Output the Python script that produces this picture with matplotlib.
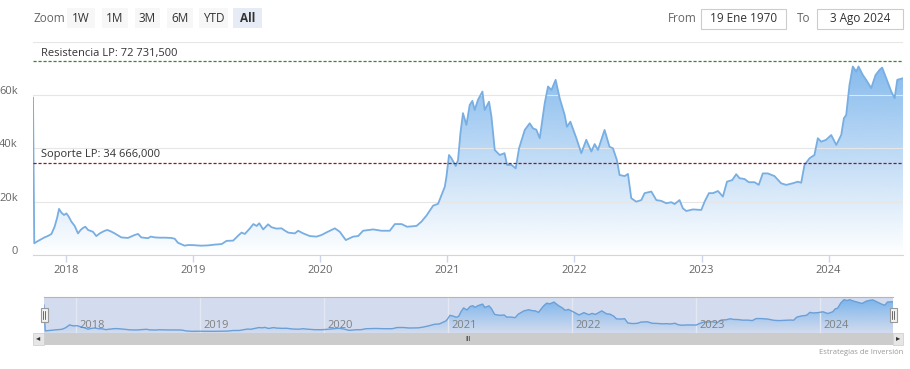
import matplotlib.pyplot as plt
import matplotlib.patches as mpatches
import matplotlib.transforms as mtransforms
from matplotlib.colors import to_rgb
import numpy as np

plt.rcParams['font.family'] = ['Open Sans', 'DejaVu Sans']

# fecha en años decimales, precio en miles de USD (lectura aproximada del gráfico)
fecha = np.array([
    2017.740, 2017.750, 2017.770, 2017.800, 2017.830, 2017.860, 2017.885, 2017.910, 2017.930, 2017.945,
    2017.963, 2017.984, 2018.003, 2018.021, 2018.042, 2018.068, 2018.094, 2018.115, 2018.135, 2018.152,
    2018.173, 2018.212, 2018.238, 2018.265, 2018.300, 2018.325, 2018.355, 2018.383, 2018.435, 2018.487,
    2018.540, 2018.566, 2018.592, 2018.645, 2018.666, 2018.700, 2018.737, 2018.780, 2018.828, 2018.855,
    2018.880, 2018.910, 2018.933, 2018.960, 2019.000, 2019.030, 2019.063, 2019.116, 2019.170, 2019.224,
    2019.263, 2019.315, 2019.355, 2019.381, 2019.407, 2019.447, 2019.473, 2019.500, 2019.520, 2019.551,
    2019.590, 2019.617, 2019.656, 2019.696, 2019.720, 2019.748, 2019.800, 2019.826, 2019.866, 2019.918,
    2019.971, 2020.010, 2020.050, 2020.115, 2020.154, 2020.201, 2020.259, 2020.298, 2020.337, 2020.416,
    2020.482, 2020.547, 2020.587, 2020.640, 2020.683, 2020.757, 2020.796, 2020.836, 2020.888, 2020.927,
    2020.954, 2020.980, 2020.993, 2021.013, 2021.032, 2021.066, 2021.084, 2021.103, 2021.123, 2021.150,
    2021.176, 2021.197, 2021.215, 2021.241, 2021.276, 2021.294, 2021.328, 2021.347, 2021.373, 2021.412,
    2021.450, 2021.470, 2021.504, 2021.538, 2021.564, 2021.609, 2021.648, 2021.674, 2021.700, 2021.727,
    2021.766, 2021.792, 2021.819, 2021.852, 2021.884, 2021.923, 2021.941, 2021.968, 2022.015, 2022.054,
    2022.093, 2022.133, 2022.159, 2022.185, 2022.237, 2022.276, 2022.303, 2022.334, 2022.355, 2022.395,
    2022.421, 2022.447, 2022.486, 2022.526, 2022.552, 2022.605, 2022.644, 2022.683, 2022.723, 2022.762,
    2022.788, 2022.827, 2022.853, 2022.880, 2022.932, 2022.998, 2023.024, 2023.058, 2023.090, 2023.129,
    2023.168, 2023.200, 2023.241, 2023.273, 2023.299, 2023.338, 2023.372, 2023.417, 2023.450, 2023.482,
    2023.521, 2023.574, 2023.626, 2023.666, 2023.718, 2023.757, 2023.784, 2023.810, 2023.850, 2023.888,
    2023.915, 2023.941, 2023.980, 2024.020, 2024.060, 2024.099, 2024.120, 2024.138, 2024.164, 2024.190,
    2024.217, 2024.235, 2024.269, 2024.295, 2024.335, 2024.369, 2024.400, 2024.421, 2024.453, 2024.493,
    2024.519, 2024.540, 2024.585,
])
precio_k = np.array([
    59.0, 4.4, 5.0, 5.8, 6.6, 7.2, 7.9, 10.6, 14.0, 17.3,
    15.9, 15.0, 15.6, 14.4, 12.5, 10.9, 8.1, 9.4, 10.2, 10.6,
    9.4, 8.7, 7.1, 8.1, 9.0, 9.4, 8.8, 8.1, 6.6, 6.4,
    7.5, 7.9, 6.6, 6.3, 6.9, 6.6, 6.5, 6.5, 6.4, 6.1,
    4.6, 4.0, 3.5, 3.75, 3.7, 3.6, 3.5, 3.6, 3.9, 4.1,
    5.3, 5.4, 7.3, 8.4, 7.9, 10.0, 11.6, 10.9, 11.9, 9.6,
    11.5, 10.4, 9.9, 10.0, 9.2, 8.4, 8.1, 9.1, 8.1, 7.1,
    6.9, 7.5, 8.5, 10.0, 8.7, 5.6, 6.9, 7.1, 9.1, 9.6,
    9.1, 9.1, 11.6, 11.6, 10.6, 10.9, 12.5, 14.8, 18.5, 19.2,
    22.5, 25.6, 29.4, 37.5, 36.3, 33.4, 35.6, 45.7, 53.2, 48.8,
    56.3, 57.8, 54.4, 58.2, 61.3, 54.4, 57.5, 51.9, 39.4, 37.5,
    38.2, 33.8, 33.8, 32.5, 40.0, 46.9, 49.4, 47.5, 47.0, 43.8,
    56.9, 63.2, 61.9, 65.7, 58.8, 52.5, 48.1, 50.0, 43.8, 38.2,
    43.2, 38.8, 41.6, 39.4, 46.9, 40.6, 40.0, 35.6, 30.0, 29.6,
    30.4, 21.3, 20.0, 20.6, 23.2, 23.8, 20.6, 20.3, 19.4, 19.8,
    19.1, 20.6, 17.5, 16.5, 17.1, 16.9, 20.0, 23.2, 23.2, 24.0,
    21.9, 27.5, 28.1, 30.3, 28.8, 28.5, 27.3, 27.3, 26.3, 30.6,
    30.6, 29.6, 26.9, 26.3, 26.9, 27.5, 27.1, 33.8, 36.3, 37.5,
    43.8, 42.5, 43.2, 45.0, 41.3, 45.0, 51.3, 52.5, 63.8, 70.7,
    68.8, 70.7, 67.5, 65.7, 62.6, 67.5, 69.4, 70.3, 66.3, 61.3,
    58.8, 65.7, 66.3,
])
precio = precio_k * 1000

anios = [2018, 2019, 2020, 2021, 2022, 2023, 2024]
y_ticks = [0, 20000, 40000, 60000, 80000]
y_labels = ['0', '20k', '40k', '60k', '']
resistencia = 72731.5
soporte = 34666.0
botones = ['1W', '1M', '3M', '6M', 'YTD', 'All']
desde = '19 Ene 1970'
hasta = '3 Ago 2024'

AZUL = '#7cb5ec'
W, H = 910, 369


def caja(x0, y0, x1, y1):
    # pixeles (origen arriba-izquierda) -> fraccion de figura
    return [x0 / W, 1 - y1 / H, (x1 - x0) / W, (y1 - y0) / H]


def rect(x0, y0, x1, y1, **kw):
    b = caja(x0, y0, x1, y1)
    fig.add_artist(mpatches.Rectangle((b[0], b[1]), b[2], b[3],
                                      transform=fig.transFigure, **kw))


def area(axe, x, y, alpha_top, color_linea, lw):
    poly = axe.fill_between(x, y, 0, facecolor='none', edgecolor='none')
    grad = np.zeros((256, 1, 4))
    grad[..., :3] = to_rgb(AZUL)
    grad[:, 0, 3] = np.linspace(0, alpha_top, 256)
    im = axe.imshow(grad, extent=[x[0], x[-1], 0, y.max()], origin='lower',
                    aspect='auto', zorder=1, interpolation='bilinear')
    im.set_clip_path(poly.get_paths()[0], transform=axe.transData)
    axe.plot(x, y, color=color_linea, lw=lw, zorder=2, solid_joinstyle='round')


def fmt(v):
    return f'{v:,.3f}'.replace(',', ' ').replace('.', ',')


fig = plt.figure(figsize=(W / 100, H / 100), dpi=100)

# ---- grafico principal
ax = fig.add_axes(caja(33, 41.7, 903, 255))
area(ax, fecha, precio, 0.92, '#78aee2', 1.3)
ax.set_xlim(fecha[0], fecha[-1])
ax.set_ylim(0, 80000)

ax.set_yticks(y_ticks)
ax.set_yticklabels(y_labels)
ax.grid(axis='y', color='#e6e6e6', lw=0.8, zorder=0)
ax.tick_params(axis='y', length=0, pad=11, labelsize=8, labelcolor='#666666')
off = mtransforms.ScaledTranslation(0, 0.05, fig.dpi_scale_trans)
for lab in ax.get_yticklabels():
    lab.set_transform(lab.get_transform() + off)

ax.set_xticks(anios)
ax.set_xticklabels([str(a) for a in anios])
ax.tick_params(axis='x', length=5, width=1, color='#ccd6eb', pad=2,
               labelsize=8, labelcolor='#666666')
for s in ['top', 'left', 'right']:
    ax.spines[s].set_visible(False)
ax.spines['bottom'].set_color('#ccd6eb')

ax.axhline(resistencia, color='#3f7f3f', lw=0.9, ls=(0, (2.5, 1.5)), zorder=3)
ax.axhline(soporte, color='#8b1a2a', lw=0.9, ls=(0, (2.5, 1.5)), zorder=3)
ax.annotate('Resistencia LP: ' + fmt(resistencia), xy=(0, resistencia),
            xycoords=('axes fraction', 'data'), xytext=(6, 1.5), textcoords='offset points',
            fontsize=8, color='#333333', va='bottom')
ax.annotate('Soporte LP: ' + fmt(soporte), xy=(0, soporte),
            xycoords=('axes fraction', 'data'), xytext=(6, 1.5), textcoords='offset points',
            fontsize=8, color='#333333', va='bottom')

# ---- navegador
nav = fig.add_axes(caja(44, 297, 893, 333))
nav.set_facecolor('#d3dcee')
area(nav, fecha, precio, 1.0, '#6a9fd8', 1.0)
nav.set_xlim(fecha[0], fecha[-1])
nav.set_ylim(0, precio.max() * 1.08)
nav.set_xticks(anios)
nav.set_yticks([])
nav.grid(axis='x', color='#e3e8f2', lw=1, zorder=0)
nav.tick_params(axis='x', length=0, labelbottom=False)
for s in ['left', 'right', 'bottom']:
    nav.spines[s].set_visible(False)
nav.spines['top'].set_color('#b5b5b5')
tr = mtransforms.blended_transform_factory(nav.transData, nav.transAxes)
for a in anios:
    nav.text(a + 0.025, 0.06, str(a), transform=tr, fontsize=8,
             color='#808080', ha='left', va='bottom', zorder=4)

# asas del navegador
for xc in (44, 893):
    rect(xc - 3.5, 308, xc + 3.5, 322, facecolor='#f2f2f2', edgecolor='#999999', lw=0.8)
    for dx in (-1, 1):
        b = caja(xc + dx, 311, xc + dx, 319)
        fig.add_artist(plt.Line2D([b[0], b[0]], [b[1], b[1] + b[3]],
                                  transform=fig.transFigure, color='#333333', lw=0.5))

# ---- barra de desplazamiento
rect(33, 333, 903, 345, facecolor='#f2f2f2', edgecolor='none')
rect(44, 333, 893, 345, facecolor='#cccccc', edgecolor='none')
rect(33, 333, 44, 345, facecolor='#e6e6e6', edgecolor='#cccccc', lw=0.5)
rect(893, 333, 903, 345, facecolor='#e6e6e6', edgecolor='#cccccc', lw=0.5)
fig.text(38.5 / W, 1 - 339 / H, '◂', fontsize=6, color='#333333', ha='center', va='center')
fig.text(898 / W, 1 - 339 / H, '▸', fontsize=6, color='#333333', ha='center', va='center')
fig.text(468 / W, 1 - 339.5 / H, 'III', fontsize=5, color='#333333', ha='center', va='center')

fig.text(903 / W, 1 - 353 / H, 'Estrategias de Inversión', fontsize=5.5,
         color='#999999', ha='right', va='center')

# ---- selector de rango
fig.text(33 / W, 1 - 18.5 / H, 'Zoom', fontsize=8.5, color='#666666', va='center')
pos_botones = [(67, 95), (102, 128), (135, 160), (167, 193), (199, 228), (233, 262)]
for txt, (x0, x1) in zip(botones, pos_botones):
    activo = txt == 'All'
    rect(x0, 8, x1, 28, facecolor='#e6ebf5' if activo else '#f7f7f7', edgecolor='none')
    fig.text((x0 + x1) / 2 / W, 1 - 18.5 / H, txt, fontsize=8.5, color='#333333',
             ha='center', va='center', fontweight='bold' if activo else 'normal')

fig.text(668 / W, 1 - 18.5 / H, 'From', fontsize=8.5, color='#666666', va='center')
rect(701, 9, 786, 29, facecolor='white', edgecolor='#cccccc', lw=0.8)
fig.text(743.5 / W, 1 - 18.5 / H, desde, fontsize=8.5, color='#333333', ha='center', va='center')
fig.text(797 / W, 1 - 18.5 / H, 'To', fontsize=8.5, color='#666666', va='center')
rect(817, 9, 903, 29, facecolor='white', edgecolor='#cccccc', lw=0.8)
fig.text(860 / W, 1 - 18.5 / H, hasta, fontsize=8.5, color='#333333', ha='center', va='center')

fig.savefig('out.png', dpi=100)
